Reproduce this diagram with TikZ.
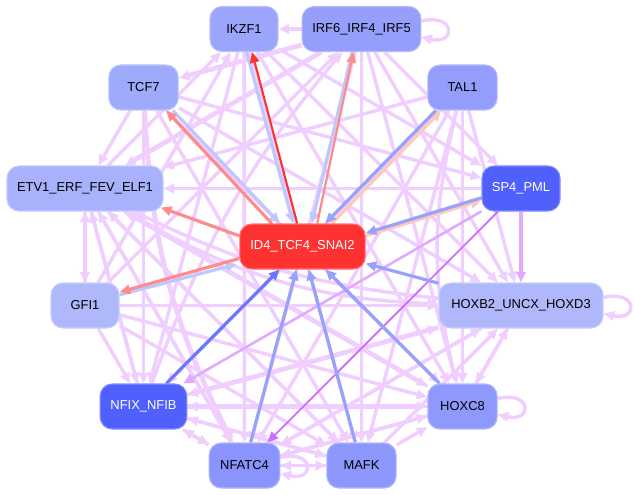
\documentclass[tikz,border=0pt]{standalone}
\usepackage{fontspec}
\setmainfont{Liberation Sans}
\usetikzlibrary{arrows.meta,backgrounds}
\definecolor{LinkViolet}{RGB}{240,206,255}
\definecolor{LinkDeep}{RGB}{226,170,255}
\definecolor{LinkDark}{RGB}{206,110,255}
\definecolor{HubRed}{RGB}{255,50,50}
\definecolor{HubSalmon}{RGB}{255,140,140}
\definecolor{HubPeach}{RGB}{255,200,190}
\definecolor{PaleBlue}{RGB}{190,200,252}
\definecolor{MidBlue}{RGB}{150,162,252}
\definecolor{DeepBlue}{RGB}{105,120,252}
\begin{document}
\begin{tikzpicture}[x=0.75pt,y=-0.75pt,
    gene/.style={rectangle, rounded corners=9pt, minimum height=33.75pt, inner sep=0pt,
      line width=0.8pt, font=\fontsize{9.7}{11}\selectfont, text=black},
    link/.style={draw=LinkViolet, line width=2.6pt, -{Triangle[length=8pt,width=7pt]}},
    heavy/.style={link, line width=3.6pt},
    hub/.style={line width=2.4pt, -{Triangle[length=8pt,width=7pt]}}]
  \useasboundingbox (0,0) rectangle (634,495);
  % genes
  \node[gene, fill={rgb,255:red,155;green,165;blue,252}, draw={rgb,255:red,185;green,192;blue,253}, minimum width=51pt] (Ikzf) at (244,29) {IKZF1};
  \node[gene, fill={rgb,255:red,150;green,158;blue,252}, draw={rgb,255:red,180;green,186;blue,253}, minimum width=89pt] (Irf) at (361.5,29) {IRF6\_IRF4\_IRF5};
  \node[gene, fill={rgb,255:red,158;green,170;blue,252}, draw={rgb,255:red,188;green,196;blue,253}, minimum width=52pt] (Tcf) at (143.5,87.5) {TCF7};
  \node[gene, fill={rgb,255:red,148;green,156;blue,252}, draw={rgb,255:red,180;green,186;blue,253}, minimum width=52pt] (Tal) at (462.5,87.5) {TAL1};
  \node[gene, fill={rgb,255:red,168;green,178;blue,252}, draw={rgb,255:red,195;green,202;blue,253}, minimum width=117pt] (Etv) at (85,188.5) {ETV1\_ERF\_FEV\_ELF1};
  \node[gene, fill={rgb,255:red,80;green,96;blue,252}, draw={rgb,255:red,130;green,142;blue,253}, text=white, minimum width=58.5pt] (Sp) at (521,188.5) {SP4\_PML};
  \node[gene, fill=HubRed, draw={rgb,255:red,255;green,110;blue,110}, text=white, minimum width=94pt] (Id) at (302.5,246.5) {ID4\_TCF4\_SNAI2};
  \node[gene, fill={rgb,255:red,176;green,184;blue,252}, draw={rgb,255:red,200;green,206;blue,253}, minimum width=51pt] (Gfi) at (85,305.5) {GFI1};
  \node[gene, fill={rgb,255:red,176;green,184;blue,252}, draw={rgb,255:red,200;green,206;blue,253}, minimum width=123pt] (Hox) at (521,305.5) {HOXB2\_UNCX\_HOXD3};
  \node[gene, fill={rgb,255:red,80;green,96;blue,255}, draw={rgb,255:red,130;green,142;blue,253}, text=white, minimum width=65pt] (Nfix) at (143.5,406.5) {NFIX\_NFIB};
  \node[gene, fill={rgb,255:red,143;green,152;blue,252}, draw={rgb,255:red,178;green,184;blue,253}, minimum width=52pt] (Hoxc) at (462.5,406.5) {HOXC8};
  \node[gene, fill={rgb,255:red,138;green,148;blue,252}, draw={rgb,255:red,175;green,182;blue,253}, minimum width=53pt] (Nfat) at (244.5,465.5) {NFATC4};
  \node[gene, fill={rgb,255:red,142;green,152;blue,252}, draw={rgb,255:red,178;green,184;blue,253}, minimum width=52pt] (Mafk) at (361.5,465.5) {MAFK};
  \begin{pgfonlayer}{background}
  % light links
  \foreach \src/\dst in {Irf/Ikzf, Ikzf/Nfat, Ikzf/Nfix, Ikzf/Mafk, Ikzf/Hox, Ikzf/Hoxc, Ikzf/Sp,
      Irf/Sp, Irf/Hox, Irf/Hoxc, Irf/Mafk, Irf/Nfat,
      Tcf/Etv, Tcf/Sp, Tcf/Nfix, Tcf/Mafk, Tcf/Hoxc, Tcf/Hox,
      Tal/Etv, Tal/Nfix, Tal/Nfat, Tal/Mafk, Tal/Hoxc, Tal/Hox,
      Sp/Etv, Etv/Gfi, Etv/Nfix, Etv/Nfat, Etv/Mafk, Etv/Ikzf,
      Gfi/Etv, Gfi/Nfix, Gfi/Hox, Gfi/Hoxc, Gfi/Mafk, Gfi/Ikzf, Gfi/Irf,
      Nfix/Nfat, Nfix/Mafk, Nfix/Hox, Nfix/Etv,
      Nfat/Mafk, Nfat/Hoxc, Nfat/Hox, Nfat/Nfix, Nfat/Etv,
      Mafk/Nfat, Mafk/Hoxc, Mafk/Nfix, Mafk/Etv, Mafk/Hox,
      Hoxc/Hox, Hoxc/Nfix, Hoxc/Etv, Hoxc/Nfat,
      Hox/Hoxc, Hox/Nfat}
    \draw[link] (\src) -- (\dst);
  \foreach \src/\dst in {Irf/Tcf, Irf/Etv, Etv/Hoxc, Nfix/Hoxc, Hox/Nfix}
    \draw[heavy] (\src) -- (\dst);
  \draw[heavy] (Tcf) to[bend right=12] (Nfat);
  \draw[link] (Etv) to[bend right=14] (Hox);
  \draw[link] (Hox) to[bend left=10] (Etv);
  \draw[link] (Nfix) to[bend left=10] (Irf);
  \draw[link] (Tal) to[bend right=14] (Hoxc);
  % self loops
  \draw[link] ([yshift=6pt]Irf.east) .. controls +(26pt,6pt) and +(26pt,-6pt) .. ([yshift=-6pt]Irf.east);
  \draw[link] ([yshift=6pt]Hox.east) .. controls +(26pt,6pt) and +(26pt,-6pt) .. ([yshift=-6pt]Hox.east);
  \draw[link] ([yshift=6pt]Hoxc.east) .. controls +(26pt,6pt) and +(26pt,-6pt) .. ([yshift=-6pt]Hoxc.east);
  \draw[link] ([yshift=6pt]Nfat.east) .. controls +(26pt,6pt) and +(26pt,-6pt) .. ([yshift=-6pt]Nfat.east);
  % violet links from SP4
  \draw[link, draw=LinkDeep] (Sp) -- (Hox);
  \draw[link, draw=LinkDeep, line width=2pt] (Sp) -- (Nfix);
  \draw[link, draw=LinkDark, line width=1.4pt] (Sp) -- (Nfat);
  % links of the hub
  \draw[hub, draw=PaleBlue] ([xshift=2pt]Ikzf.south) -- ([xshift=-7pt]Id.north);
  \draw[hub, draw=HubRed, line width=1.6pt] ([xshift=-4pt]Id.north) -- ([xshift=6pt]Ikzf.south);
  \draw[hub, draw=PaleBlue] ([xshift=-7pt]Irf.south) -- ([xshift=7pt]Id.north);
  \draw[hub, draw=HubSalmon, line width=1.7pt] ([xshift=11pt]Id.north) -- ([xshift=-6pt]Irf.south);
  \draw[hub, draw=PaleBlue] ([xshift=22pt]Tcf.south) -- ([xshift=-17pt]Id.north);
  \draw[hub, draw=HubSalmon] ([xshift=-23pt]Id.north) -- ([xshift=17pt]Tcf.south);
  \draw[hub, draw=HubPeach] ([xshift=22pt]Id.north) -- ([xshift=-16pt]Tal.south);
  \draw[hub, draw=MidBlue] ([xshift=-20pt]Tal.south) -- ([xshift=17pt]Id.north);
  \draw[hub, draw=HubSalmon] ([yshift=8pt]Id.west) -- ([xshift=-2pt,yshift=3pt]Etv.south east);
  \draw[hub, draw=HubPeach] ([yshift=8pt]Id.east) -- ([yshift=-9pt]Sp.west);
  \draw[hub, draw=MidBlue] ([yshift=-7pt]Sp.west) -- ([yshift=10pt]Id.east);
  \draw[hub, draw=PaleBlue] ([yshift=8pt]Gfi.east) -- ([xshift=-2pt,yshift=4pt]Id.south west);
  \draw[hub, draw=HubSalmon] ([yshift=-9pt]Id.west) -- ([yshift=10pt]Gfi.east);
  \draw[hub, draw=DeepBlue] (Nfix) -- (Id);
  \draw[hub, draw=MidBlue] (Nfat) -- (Id);
  \draw[hub, draw=MidBlue] (Mafk) -- (Id);
  \draw[hub, draw=MidBlue] (Hoxc) -- (Id);
  \draw[hub, draw=MidBlue] (Hox) -- (Id);
  \end{pgfonlayer}
\end{tikzpicture}
\end{document}
